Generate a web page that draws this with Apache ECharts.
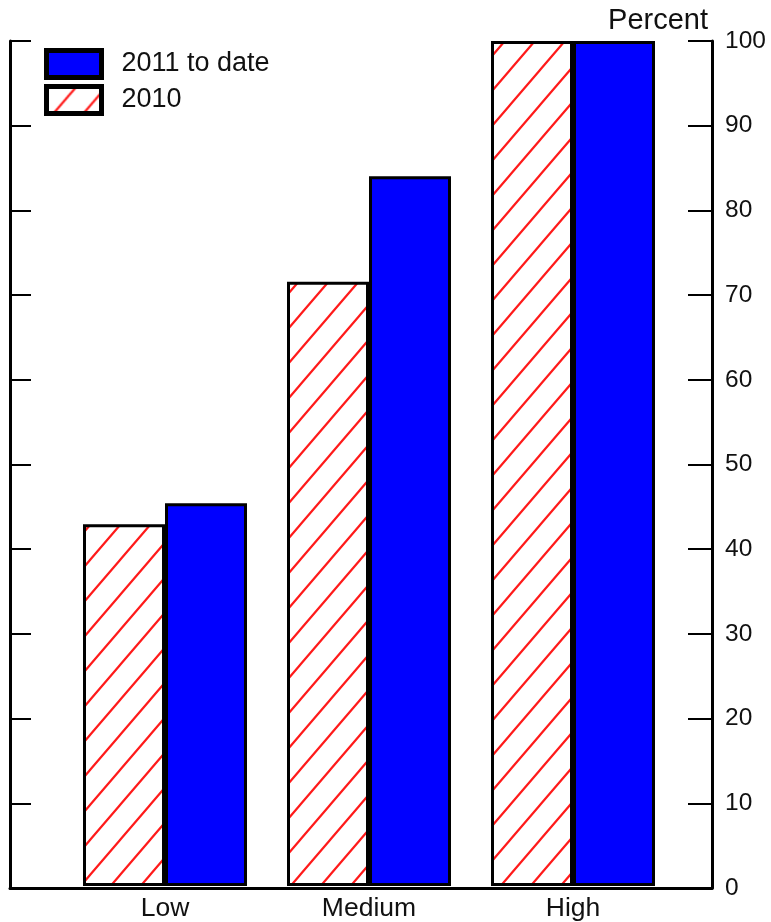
<!DOCTYPE html>
<html>
<head>
<meta charset="utf-8">
<script src="https://cdn.jsdelivr.net/npm/echarts@6/dist/echarts.min.js"></script>
<style>html,body{margin:0;padding:0;background:#fff}#c{width:771px;height:922px}</style>
</head>
<body>
<div id="c"></div>
<script>
var categories = ['Low', 'Medium', 'High'];
var series2010 = [42.8, 71.5, 100];
var series2011 = [45.3, 84.0, 100];
var yTicks = [0, 10, 20, 30, 40, 50, 60, 70, 80, 90, 100];
var seriesNames = ['2011 to date', '2010'];

function hatch() {
  var w = 30, h = 35;
  var c = document.createElement('canvas');
  c.width = w; c.height = h;
  var g = c.getContext('2d');
  g.fillStyle = '#ffffff';
  g.fillRect(0, 0, w, h);
  g.strokeStyle = '#ff1a1a';
  g.lineWidth = 2.2;
  g.beginPath();
  for (var k = -1; k <= 1; k++) {
    var t = 1 + k;
    g.moveTo(-w, h * (t + 1));
    g.lineTo(2 * w, h * (t - 2));
  }
  g.stroke();
  return c;
}
var hatchColor = { image: hatch(), repeat: 'repeat' };

var chart = echarts.init(document.getElementById('c'), null, { renderer: 'canvas' });
var font = 'Liberation Sans, Arial, sans-serif';
chart.setOption({
  animation: false,
  backgroundColor: '#fff',
  textStyle: { fontFamily: font },
  grid: [
    { left: 10, right: 59, top: 41, bottom: 34, containLabel: false },
    { left: 63, width: 612, top: 41, bottom: 34, containLabel: false }
  ],
  legend: {
    data: seriesNames,
    orient: 'vertical',
    left: 44, top: 48, padding: 0,
    itemWidth: 55, itemHeight: 27, itemGap: 4,
    icon: 'rect',
    textStyle: { fontSize: 27, lineHeight: 26, color: '#111', fontFamily: font, padding: [0, 0, 0, 15] },
    itemStyle: { borderColor: '#000', borderWidth: 5 }
  },
  title: {
    text: 'Percent', right: 58, top: 1,
    textStyle: { fontSize: 29, fontWeight: 'normal', color: '#111', fontFamily: font }
  },
  xAxis: [
    { gridIndex: 0, type: 'value', min: 0, max: 1,
      axisLine: { show: true, lineStyle: { color: '#000', width: 3 } },
      axisTick: { show: false }, axisLabel: { show: false }, splitLine: { show: false } },
    { gridIndex: 1, type: 'category', data: categories,
      axisLine: { show: false }, axisTick: { show: false },
      axisLabel: { fontSize: 26.5, color: '#111', margin: 9, fontFamily: font } }
  ],
  yAxis: [
    { gridIndex: 0, type: 'value', position: 'left', min: 0, max: 100, interval: 10,
      axisLine: { show: true, lineStyle: { color: '#000', width: 3 } },
      axisTick: { show: true, inside: true, length: 21, lineStyle: { color: '#000', width: 2 } },
      axisLabel: { show: false }, splitLine: { show: false } },
    { gridIndex: 0, type: 'value', position: 'right', min: 0, max: 100, interval: 10,
      axisLine: { show: true, lineStyle: { color: '#000', width: 3 } },
      axisTick: { show: true, inside: true, length: 24, lineStyle: { color: '#000', width: 2 } },
      axisLabel: { show: true, fontSize: 24.5, color: '#111', margin: 13, fontFamily: font,
        formatter: function (v) { return yTicks.indexOf(v) >= 0 ? String(v) : ''; } },
      splitLine: { show: false } },
    { gridIndex: 1, type: 'value', min: 0, max: 100, show: false }
  ],
  series: [
    { name: '2010', type: 'bar', xAxisIndex: 1, yAxisIndex: 2, data: series2010,
      barWidth: 82, barGap: '0%',
      itemStyle: { color: hatchColor, borderColor: '#000', borderWidth: 3 } },
    { name: '2011 to date', type: 'bar', xAxisIndex: 1, yAxisIndex: 2, data: series2011,
      barWidth: 82, barGap: '0%',
      itemStyle: { color: '#0000ff', borderColor: '#000', borderWidth: 3 } }
  ]
});
</script>
</body>
</html>
